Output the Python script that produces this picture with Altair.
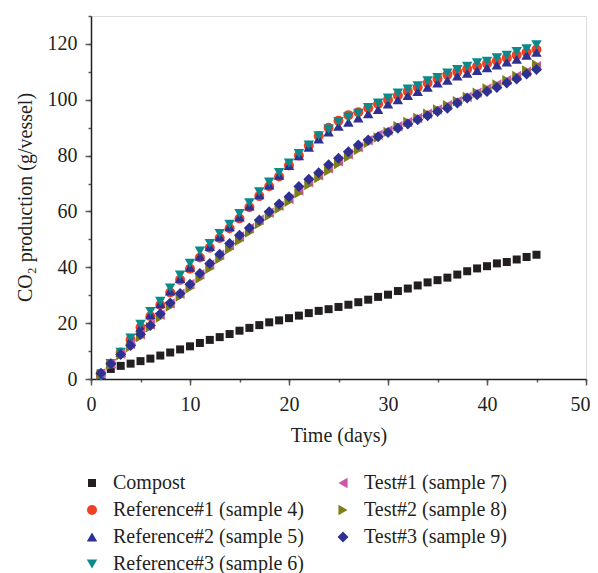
import altair as alt
import pandas as pd

days = list(range(1, 46))

compost = [2.0, 3.6, 4.7, 5.5, 6.4, 7.3, 8.4, 9.5, 10.6, 11.7, 12.9, 14.0, 15.0, 16.1, 17.3,
           18.3, 19.3, 20.3, 21.0, 21.8, 22.7, 23.6, 24.4, 25.0, 25.8, 26.6, 27.5, 28.4, 29.4, 30.2,
           31.5, 32.4, 33.5, 34.6, 35.4, 36.3, 37.4, 38.6, 39.6, 40.4, 41.4, 41.9, 42.8, 43.7, 44.5]
ref1 = [1.5, 5.5, 9.5, 14.0, 18.5, 22.5, 26.5, 31.0, 35.5, 39.5, 43.5, 47.0, 50.5, 54.0, 57.5,
        61.5, 65.5, 69.0, 72.5, 76.5, 80.0, 83.5, 87.0, 90.0, 92.5, 94.5, 95.5, 97.0, 98.5, 100.0,
        101.5, 103.0, 104.5, 106.0, 107.5, 109.0, 110.0, 111.0, 112.0, 113.0, 114.0, 115.0, 116.0, 117.0, 118.0]
ref2 = [1.5, 5.5, 9.5, 14.0, 18.5, 23.0, 27.0, 31.5, 36.0, 40.0, 44.0, 47.5, 51.0, 54.5, 58.0,
        62.0, 66.0, 69.5, 73.0, 76.5, 80.0, 83.0, 86.0, 88.5, 90.5, 92.0, 93.5, 95.0, 96.5, 98.5,
        100.0, 101.5, 103.0, 104.5, 106.0, 107.0, 108.5, 109.5, 110.5, 111.5, 112.5, 113.5, 114.5, 116.0, 117.0]
ref3 = [1.0, 5.5, 9.6, 14.7, 19.6, 24.2, 27.8, 32.6, 37.2, 41.4, 45.8, 48.5, 52.1, 55.4, 59.3,
        63.1, 67.0, 70.5, 73.9, 77.3, 80.7, 83.8, 87.1, 89.5, 92.2, 93.8, 95.2, 97.2, 98.8, 100.6,
        102.4, 103.8, 105.0, 106.8, 108.0, 109.6, 110.8, 112.0, 113.2, 113.8, 115.0, 115.9, 117.3, 118.3, 119.7]
test1 = [2.0, 5.5, 9.0, 12.5, 16.0, 19.5, 23.0, 27.0, 30.5, 34.0, 37.5, 41.0, 44.5, 48.0, 51.0,
         54.0, 57.0, 59.5, 62.0, 64.5, 67.5, 70.5, 73.0, 75.5, 78.0, 80.5, 83.0, 85.5, 87.5, 89.0,
         90.5, 92.0, 93.5, 95.0, 96.5, 98.0, 99.5, 101.0, 102.5, 104.0, 105.5, 107.0, 108.5, 110.0, 112.0]
test2 = [1.5, 5.0, 8.5, 11.5, 15.0, 18.5, 22.0, 26.0, 29.5, 32.5, 36.0, 39.5, 43.0, 46.5, 49.5,
         52.5, 55.5, 58.5, 61.0, 63.5, 66.5, 69.5, 72.0, 74.5, 77.0, 79.5, 82.0, 84.5, 86.5, 88.5,
         90.5, 92.0, 93.5, 95.0, 96.5, 98.0, 99.5, 101.0, 102.5, 104.0, 105.5, 107.0, 108.5, 110.5, 112.5]
test3 = [2.1, 5.5, 8.8, 12.0, 16.0, 19.2, 23.4, 27.2, 30.6, 33.9, 37.8, 41.4, 44.7, 48.5, 51.5,
         54.1, 56.9, 59.9, 62.7, 65.3, 68.9, 71.5, 73.9, 76.7, 79.1, 81.4, 83.8, 85.6, 86.8, 88.3,
         89.8, 91.3, 92.8, 94.3, 95.8, 97.0, 98.8, 100.6, 101.8, 103.0, 104.4, 106.0, 107.4, 109.2, 110.8]

series_names = ["Compost", "Reference#1 (sample 4)", "Reference#2 (sample 5)", "Reference#3 (sample 6)",
                "Test#1 (sample 7)", "Test#2 (sample 8)", "Test#3 (sample 9)"]
series_values = [compost, ref1, ref2, ref3, test1, test2, test3]
colors = ["#231f20", "#ee4023", "#2e3192", "#0a8a8a", "#cc58a8", "#7f7f1a", "#2e3192"]
shapes = ["square", "circle", "triangle-up", "triangle-down", "triangle-left", "triangle-right", "diamond"]
sizes = [64, 100, 110, 110, 110, 110, 121]

x_major = [0, 10, 20, 30, 40, 50]
x_minor = list(range(0, 51, 5))
y_major = [0, 20, 40, 60, 80, 100, 120]
y_minor = list(range(0, 131, 10))

rows = []
for name, vals in zip(series_names, series_values):
    for d, v in zip(days, vals):
        rows.append({"day": d, "co2": v, "series": name})
df = pd.DataFrame(rows)

FONT = "Liberation Serif"
TXT = "#231f20"
xscale = alt.Scale(domain=[0, 50], nice=False, zero=False)
yscale = alt.Scale(domain=[0, 130], nice=False, zero=False)

legend = alt.Legend(
    title=None, orient="none", legendX=-9, legendY=457, columns=2,
    labelFont=FONT, labelFontSize=20, labelColor=TXT, labelLimit=0,
    symbolSize=70, symbolStrokeWidth=0, labelOffset=11, rowPadding=7,
    columnPadding=28, padding=0,
)

points = alt.Chart(df).mark_point(filled=True, opacity=1, strokeWidth=0).encode(
    x=alt.X("day:Q", scale=xscale, axis=alt.Axis(
        orient="bottom", values=x_major, title="Time (days)", grid=False,
        labelExpr="datum.value == 0 ? '' : datum.label",
        tickSize=6, labelPadding=9, labelFlush=True, labelFlushOffset=4,
        labelFont=FONT, labelFontSize=20, labelColor=TXT,
        titleFont=FONT, titleFontSize=20, titleFontWeight="normal", titleColor=TXT, titleY=46,
        domainColor=TXT, domainWidth=1.5, tickColor="#58595b", tickWidth=1.5)),
    y=alt.Y("co2:Q", scale=yscale, axis=alt.Axis(
        orient="left", values=y_major, title="CO₂ production (g/vessel)", grid=False,
        tickSize=6, labelPadding=8, labelFlush=False, labelFont=FONT, labelFontSize=20, labelColor=TXT,
        titleFont=FONT, titleFontSize=20, titleFontWeight="normal", titleColor=TXT,
        titleX=-56, titleY=181,
        domainColor=TXT, domainWidth=1.5, tickColor="#58595b", tickWidth=1.5)),
    color=alt.Color("series:N", scale=alt.Scale(domain=series_names, range=colors), legend=legend),
    shape=alt.Shape("series:N", scale=alt.Scale(domain=series_names, range=shapes), legend=legend),
    size=alt.Size("series:N", scale=alt.Scale(type="ordinal", domain=series_names, range=sizes), legend=None),
)

minor = alt.Chart(df).mark_point(opacity=0).encode(
    x=alt.X("day:Q", scale=xscale, axis=alt.Axis(
        orient="bottom", values=x_minor, domain=False, title=None,
        labelExpr="datum.value == 0 ? '0' : ''", labelFlush=False, labelPadding=12,
        labelFont=FONT, labelFontSize=20, labelColor=TXT,
        grid=False, tickSize=3, tickColor="#58595b", tickWidth=1.5)),
    y=alt.Y("co2:Q", scale=yscale, axis=alt.Axis(
        orient="left", values=y_minor, labels=False, domain=False, title=None,
        grid=False, tickSize=3, tickColor="#58595b", tickWidth=1.5)),
)

chart = alt.layer(minor, points).resolve_axis(x="independent", y="independent").properties(
    width=495, height=363,
    padding={"left": 83, "top": 8, "right": 4, "bottom": 194},
    autosize=alt.AutoSizeParams(type="none"),
).configure_view(stroke=None).configure(background="white")

chart.save("out.html", embed_options={"renderer": "svg", "actions": False})
